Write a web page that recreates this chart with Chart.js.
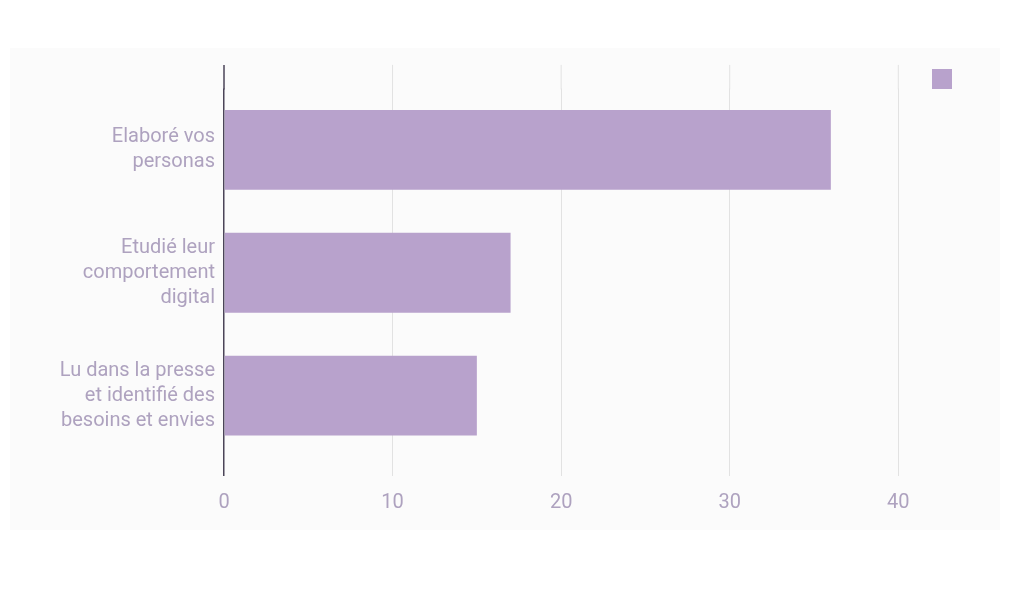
<!DOCTYPE html>
<html>
<head>
<meta charset="utf-8">
<script src="https://cdn.jsdelivr.net/npm/chart.js@4"></script>
<style>
  body { margin:0; background:#ffffff; }
  #wrap { position:relative; width:1011px; height:600px; }
  #panel { position:absolute; left:10px; top:48px; width:990px; height:482px; background:#fbfbfb; }
  #my-chart { position:absolute; left:0; top:0; }
</style>
</head>
<body>
<div id="wrap">
  <div id="panel"></div>
  <canvas id="my-chart" width="1011" height="600"></canvas>
</div>
<script>
var categories = [
    ["Elaboré vos", "personas"],
    ["Etudié leur", "comportement", "digital"],
    ["Lu dans la presse", "et identifié des", "besoins et envies"]
]
var values = [36, 17, 15]
var xTicks = [0, 10, 20, 30, 40]

var barColor = "#b8a2cc"
var textColor = "#aea2bf"

function gridColor(ctx){
    return ctx.tick && ctx.tick.value === 0 ? "#4b4458" : "#e2e2e2"
}

// grid lines in the reference start a bit above the plot area
var topGrid = {
    id: "topGrid",
    beforeDatasetsDraw: function(chart){
        var ctx = chart.ctx
        var x = chart.scales.x
        var top = chart.chartArea.top
        ctx.save()
        x.ticks.forEach(function(t){
            var px = x.getPixelForValue(t.value)
            ctx.strokeStyle = t.value === 0 ? "#4b4458" : "#e2e2e2"
            ctx.lineWidth = t.value === 0 ? 1.5 : 1
            ctx.beginPath()
            ctx.moveTo(px, top - 23.5)
            ctx.lineTo(px, top + 1)
            ctx.stroke()
        })
        ctx.restore()
    }
}

var chart = new Chart(document.getElementById("my-chart").getContext("2d"), {
    type: "bar",
    data: {
        labels: categories,
        datasets: [{
            label: "",
            data: values,
            backgroundColor: barColor,
            borderWidth: 0,
            barPercentage: 0.65,
            categoryPercentage: 1
        }]
    },
    options: {
        indexAxis: "y",
        responsive: false,
        animation: false,
        layout: { padding: { left: 10, right: 43, top: 69, bottom: 70 } },
        plugins: {
            title: { display: true, text: "", font: { size: 12 }, padding: { top: 0, bottom: 5 } },
            legend: {
                position: "right",
                align: "start",
                labels: { boxWidth: 20, boxHeight: 20, padding: 0, font: { size: 12 } }
            },
            tooltip: { enabled: false }
        },
        scales: {
            x: {
                min: 0,
                max: 42,
                afterBuildTicks: function(s){
                    s.ticks = xTicks.map(function(v){ return { value: v } })
                },
                ticks: {
                    stepSize: 10,
                    includeBounds: false,
                    padding: 15,
                    color: textColor,
                    font: { family: "Roboto", size: 20 }
                },
                grid: {
                    color: gridColor,
                    lineWidth: function(ctx){ return ctx.tick && ctx.tick.value === 0 ? 1.5 : 1 },
                    tickLength: 19
                },
                border: { display: false }
            },
            y: {
                afterFit: function(s){ s.width = 214 },
                ticks: {
                    padding: 9,
                    color: textColor,
                    font: { family: "Roboto", size: 20, lineHeight: 1.25 }
                },
                grid: { display: false, drawTicks: false },
                border: { display: false }
            }
        }
    },
    plugins: [topGrid]
})
</script>
</body>
</html>
